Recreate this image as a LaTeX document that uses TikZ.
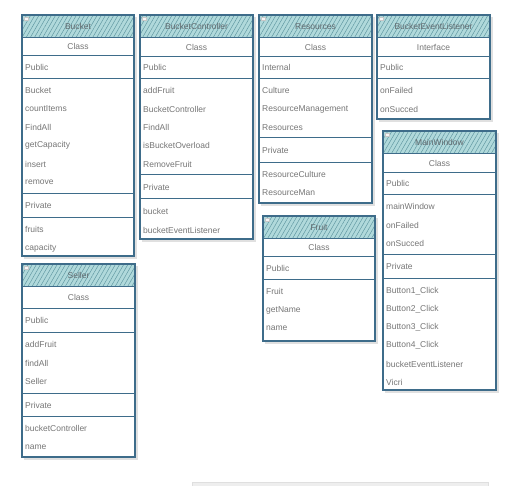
\documentclass[tikz,border=0pt]{standalone}
\usepackage{fontspec}
\setmainfont{Liberation Sans}
\usetikzlibrary{patterns.meta}
\definecolor{boxblue}{RGB}{62,108,138}
\definecolor{tealL}{RGB}{176,217,219}
\definecolor{tealD}{RGB}{92,148,158}
\definecolor{txtgray}{RGB}{118,118,118}
\definecolor{ttlgray}{RGB}{95,105,110}
\tikzset{
 frame/.style={draw=boxblue, line width=1.3pt, inner sep=0pt, outer sep=0pt, anchor=north west},
 sep/.style={draw=boxblue, line width=0.9pt},
 ttlfill/.style={preaction={fill=tealL}, pattern={Lines[angle=60,distance=3.6pt,line width=0.45pt]}, pattern color=tealD},
 shadowbox/.style={fill=black, opacity=0.12},
 itm/.style={font=\fontsize{8.5}{10}\selectfont, text=txtgray, anchor=west, inner sep=0pt, yshift=-0.8pt},
 ctr/.style={font=\fontsize{8.5}{10}\selectfont, text=txtgray, inner sep=0pt, yshift=-0.8pt},
 ttl/.style={font=\fontsize{8.5}{10}\selectfont, text=ttlgray, inner sep=0pt, yshift=-0.5pt},
 icon/.style={fill=white!92!gray, draw=gray!45, line width=0.3pt},
}
% name, L, R, T, B, title, title bottom
\newcommand\umlbox[7]{%
 \fill[shadowbox] (#2+2,#4+2) rectangle (#3+2.5,#5+3);
 \fill[white] (#2,#4) rectangle (#3,#5);
 \fill[ttlfill] (#2,#4) rectangle (#3,#7);
 \draw[icon] (#2+2,#4+2) rectangle (#2+6,#4+5);
 \node[frame, minimum width={(#3-#2)*1pt}, minimum height={(#5-#4)*1pt}] (#1) at (#2,#4) {};
 \draw[sep] (#2,#7) -- (#3,#7);
 \node[ttl] (#1-t) at ({(#2+#3)/2},{(#4+#7)/2}) {#6};
}
% prefix, x, y0, spacing, list
\newcommand\umlitems[5]{%
 \foreach \t [count=\i] in {#5} \node[itm] (#1\i) at (#2,{#3+(\i-1)*#4}) {\t};
}
\newcommand\umlsep[3]{\draw[sep] (#1,#3) -- (#2,#3);}
\begin{document}
\begin{tikzpicture}[x=1pt,y=-1pt]
\useasboundingbox (0,0) rectangle (520,486);
\fill[white] (0,0) rectangle (520,486);

% Bucket
\umlbox{bk}{22}{134}{15}{256}{Bucket}{37}
\umlsep{22}{134}{55}\umlsep{22}{134}{78}\umlsep{22}{134}{193}\umlsep{22}{134}{217}
\node[ctr] (bk-c) at (78,46) {Class};
\node[itm] (bk-pub) at (25,66.5) {Public};
\umlitems{bkm}{25}{90}{18.3}{Bucket,countItems,FindAll,getCapacity,insert,remove}
\node[itm] (bk-prv) at (25,205) {Private};
\umlitems{bkf}{25}{229}{18.3}{fruits,capacity}

% BucketController
\umlbox{bc}{140}{253}{15}{239}{BucketController}{37}
\umlsep{140}{253}{56}\umlsep{140}{253}{78}\umlsep{140}{253}{174}\umlsep{140}{253}{198}
\node[ctr] (bc-c) at (196.5,46.5) {Class};
\node[itm] (bc-pub) at (143,67) {Public};
\umlitems{bcm}{143}{90}{18.3}{addFruit,BucketController,FindAll,isBucketOverload,RemoveFruit}
\node[itm] (bc-prv) at (143,186.5) {Private};
\umlitems{bcf}{143}{211}{18.3}{bucket,bucketEventListener}

% Resources
\umlbox{rs}{259}{372}{15}{203}{Resources}{37}
\umlsep{259}{372}{56}\umlsep{259}{372}{78}\umlsep{259}{372}{137}\umlsep{259}{372}{162}
\node[ctr] (rs-c) at (315.5,46.5) {Class};
\node[itm] (rs-int) at (262,67) {Internal};
\umlitems{rsm}{262}{90}{18.3}{Culture,ResourceManagement,Resources}
\node[itm] (rs-prv) at (262,150) {Private};
\umlitems{rsf}{262}{174}{18.3}{ResourceCulture,ResourceMan}

% BucketEventListener
\umlbox{bel}{377}{490}{15}{119}{BucketEventListener}{37}
\umlsep{377}{490}{56}\umlsep{377}{490}{78}
\node[ctr] (bel-c) at (433.5,46.5) {Interface};
\node[itm] (bel-pub) at (380,67) {Public};
\umlitems{belm}{380}{90}{18.3}{onFailed,onSucced}

% MainWindow
\umlbox{mw}{383}{496}{131}{390}{MainWindow}{153}
\umlsep{383}{496}{172}\umlsep{383}{496}{194}\umlsep{383}{496}{254}\umlsep{383}{496}{278}
\node[ctr] (mw-c) at (439.5,162.5) {Class};
\node[itm] (mw-pub) at (386,183) {Public};
\umlitems{mwm}{386}{206}{18.3}{mainWindow,onFailed,onSucced}
\node[itm] (mw-prv) at (386,266) {Private};
\umlitems{mwf}{386}{290}{18.3}{Button1\_Click,Button2\_Click,Button3\_Click,Button4\_Click,bucketEventListener,Vicri}

% Fruit
\umlbox{fr}{263}{375}{216}{341}{Fruit}{238}
\umlsep{263}{375}{256}\umlsep{263}{375}{279}
\node[ctr] (fr-c) at (319,247) {Class};
\node[itm] (fr-pub) at (266,267.5) {Public};
\umlitems{frm}{266}{291}{18.3}{Fruit,getName,name}

% Seller
\umlbox{sl}{22}{135}{264}{457}{Seller}{286}
\umlsep{22}{135}{308}\umlsep{22}{135}{332}\umlsep{22}{135}{393}\umlsep{22}{135}{416}
\node[ctr] (sl-c) at (78.5,297) {Class};
\node[itm] (sl-pub) at (25,320) {Public};
\umlitems{slm}{25}{344}{18.5}{addFruit,findAll,Seller}
\node[itm] (sl-prv) at (25,405) {Private};
\umlitems{slf}{25}{428}{18.5}{bucketController,name}

% partially visible panel at the bottom
\fill[gray!13] (192,482) rectangle (488,488);
\draw[gray!25, line width=0.5pt] (192,488) -- (192,482) -- (488,482) -- (488,488);
\end{tikzpicture}
\end{document}
